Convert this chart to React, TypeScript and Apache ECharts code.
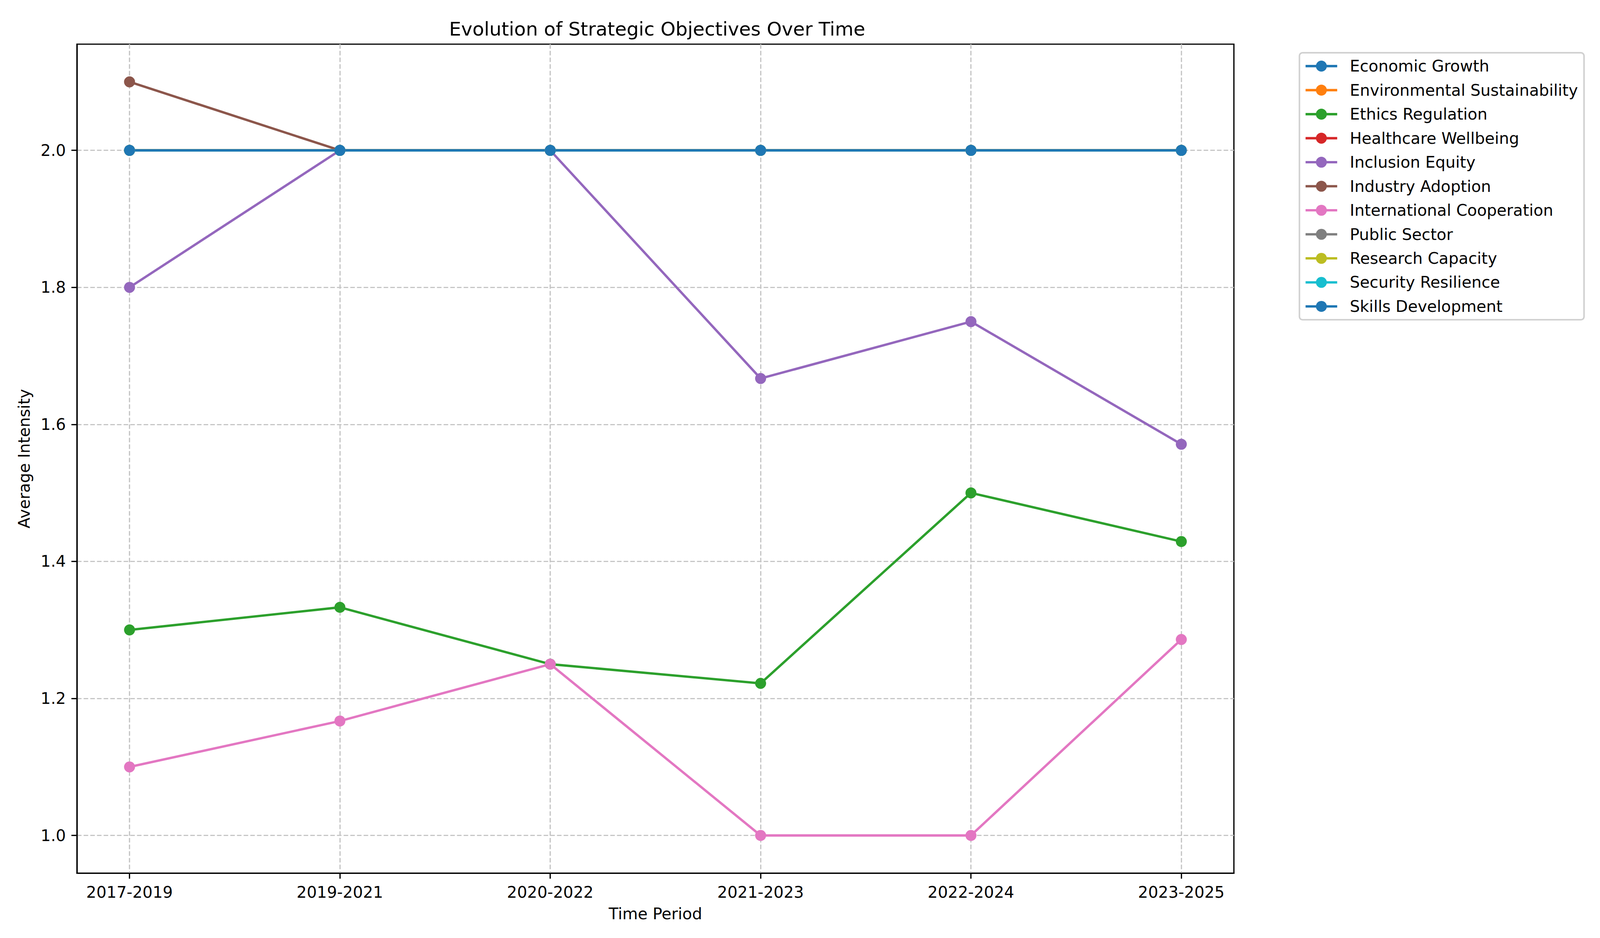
import React, { useEffect, useRef } from "react";
import * as echarts from "echarts";

const periods = ["2017-2019", "2019-2021", "2020-2022", "2021-2023", "2022-2024", "2023-2025"];

const seriesNames = [
  "Economic Growth",
  "Environmental Sustainability",
  "Ethics Regulation",
  "Healthcare Wellbeing",
  "Inclusion Equity",
  "Industry Adoption",
  "International Cooperation",
  "Public Sector",
  "Research Capacity",
  "Security Resilience",
  "Skills Development",
];

const economicGrowth = [2.0, 2.0, 2.0, 2.0, 2.0, 2.0];
const environmentalSustainability = [2.0, 2.0, 2.0, 2.0, 2.0, 2.0];
const ethicsRegulation = [1.3, 1.333, 1.25, 1.222, 1.5, 1.429];
const healthcareWellbeing = [2.0, 2.0, 2.0, 2.0, 2.0, 2.0];
const inclusionEquity = [1.8, 2.0, 2.0, 1.667, 1.75, 1.571];
const industryAdoption = [2.1, 2.0, 2.0, 2.0, 2.0, 2.0];
const internationalCooperation = [1.1, 1.167, 1.25, 1.0, 1.0, 1.286];
const publicSector = [2.0, 2.0, 2.0, 2.0, 2.0, 2.0];
const researchCapacity = [2.0, 2.0, 2.0, 2.0, 2.0, 2.0];
const securityResilience = [2.0, 2.0, 2.0, 2.0, 2.0, 2.0];
const skillsDevelopment = [2.0, 2.0, 2.0, 2.0, 2.0, 2.0];

const seriesValues = [
  economicGrowth,
  environmentalSustainability,
  ethicsRegulation,
  healthcareWellbeing,
  inclusionEquity,
  industryAdoption,
  internationalCooperation,
  publicSector,
  researchCapacity,
  securityResilience,
  skillsDevelopment,
];

const yTicks = [1.0, 1.2, 1.4, 1.6, 1.8, 2.0];

const colors = [
  "#1f77b4", "#ff7f0e", "#2ca02c", "#d62728", "#9467bd",
  "#8c564b", "#e377c2", "#7f7f7f", "#bcbd22", "#17becf", "#1f77b4",
];

const FONT = "DejaVu Sans";

export default function App() {
  const ref = useRef<HTMLDivElement>(null);
  useEffect(() => {
    document.body.style.margin = "0";
    document.body.style.overflow = "hidden";
    document.documentElement.style.overflow = "hidden";
    const el = ref.current;
    if (!el) return;
    const W = document.documentElement.clientWidth || window.innerWidth || 4200;
    const H = document.documentElement.clientHeight || window.innerHeight || 2400;
    el.style.width = W + "px";
    el.style.height = H + "px";
    const sx = W / 4200;
    const sy = H / 2400;
    const s = Math.min(sx, sy);
    const X = (v: number) => v * sx;
    const Y = (v: number) => v * sy;
    const S = (v: number) => v * s;

    const chart = echarts.init(el, null, { renderer: "svg" });
    const xIdx = periods.map((_, i) => i);
    const fs = S(41.7);
    const gridLine = { show: true, lineStyle: { color: "#c6c6c6", width: S(3.3), type: [S(12), S(5.5)] } };
    chart.setOption({
      animation: false,
      backgroundColor: "#ffffff",
      color: colors,
      textStyle: { fontFamily: FONT },
      title: {
        text: "Evolution of Strategic Objectives Over Time",
        left: X(1720),
        textAlign: "center",
        top: Y(44),
        textStyle: { fontFamily: FONT, fontSize: S(50), fontWeight: "normal", color: "#000" },
      },
      grid: {
        left: X(202), right: X(961), top: Y(113), bottom: Y(166),
        show: true, borderColor: "#000", borderWidth: S(3.3), backgroundColor: "transparent",
      },
      legend: {
        orient: "vertical",
        left: X(3411),
        top: Y(135),
        padding: [S(14), S(16), S(14), S(13)],
        itemWidth: S(83),
        itemHeight: S(36),
        itemGap: S(21),
        borderColor: "#d0d0d0",
        borderWidth: S(4),
        borderRadius: S(8),
        backgroundColor: "#fff",
        lineStyle: { width: S(6.25) },
        textStyle: { fontFamily: FONT, fontSize: fs, lineHeight: S(42), color: "#000", padding: [0, 0, 0, S(28)] },
        data: seriesNames,
      },
      xAxis: {
        type: "value",
        min: -0.25,
        max: 5.25,
        name: "Time Period",
        nameLocation: "middle",
        nameGap: S(86),
        nameTextStyle: { fontFamily: FONT, fontSize: fs, color: "#000" },
        axisLine: { show: true, onZero: false, lineStyle: { color: "#000", width: S(3.3) } },
        axisTick: { show: true, length: S(14.6), lineStyle: { color: "#000", width: S(3.3) }, customValues: xIdx },
        axisLabel: {
          margin: S(29),
          fontFamily: FONT, fontSize: fs, color: "#000",
          customValues: xIdx,
          formatter: (v: number) => periods[Math.round(v)] ?? "",
        },
        splitLine: gridLine,
      },
      yAxis: {
        type: "value",
        min: 0.945,
        max: 2.155,
        name: "Average Intensity",
        nameLocation: "middle",
        nameRotate: 90,
        nameGap: S(117),
        nameTextStyle: { fontFamily: FONT, fontSize: fs, color: "#000" },
        axisLine: { show: true, onZero: false, lineStyle: { color: "#000", width: S(3.3) } },
        axisTick: { show: true, length: S(14.6), lineStyle: { color: "#000", width: S(3.3) }, customValues: yTicks },
        axisLabel: {
          margin: S(29),
          fontFamily: FONT, fontSize: fs, color: "#000",
          customValues: yTicks,
          formatter: (v: number) => v.toFixed(1),
        },
        splitLine: gridLine,
      },
      series: seriesNames.map((name, si) => ({
        name,
        type: "line",
        data: seriesValues[si].map((v, i) => [xIdx[i], v]),
        symbol: "circle",
        symbolSize: S(29),
        showSymbol: true,
        lineStyle: { width: S(6.25), color: colors[si] },
        itemStyle: { color: colors[si] },
        emphasis: { disabled: true },
      })),
    });
    return () => chart.dispose();
  }, []);
  return <div ref={ref} style={{ width: 4200, height: 2400 }} />;
}
